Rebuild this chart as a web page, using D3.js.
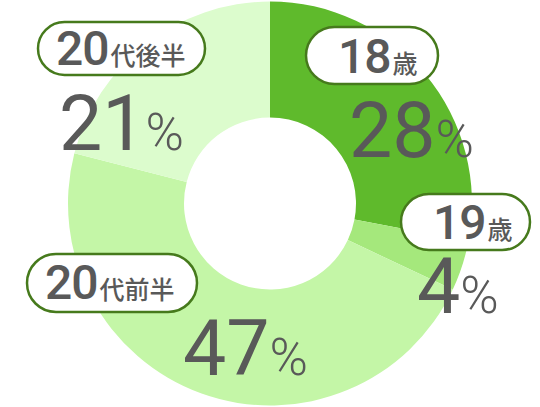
<!DOCTYPE html>
<html>
<head>
<meta charset="utf-8">
<script src="https://cdn.jsdelivr.net/npm/d3@7"></script>
<style>
  body { margin: 0; background: #fff; }
  svg { display: block; }
</style>
</head>
<body>
<div id="chart"></div>
<script>
// data
let nums = ['18', '19', '20', '20'];
let suffixes = ['歳', '歳', '代前半', '代後半'];
let values = [28, 4, 47, 21];
let colors = ['#5fba2c', '#a5e87c', '#c4f6a7', '#dcfccd'];

// label placement (box + percentage), one entry per slice
let layout = [
  {box: [306, 27, 132, 57], tx: 338, ty: 73, px: 349, py: 157},
  {box: [401, 194, 129, 56], tx: 433, ty: 239, px: 417, py: 313},
  {box: [27, 254, 170, 58], tx: 45, ty: 299, px: 183, py: 375},
  {box: [38, 22, 167, 53], tx: 56, ty: 65, px: 59, py: 150}
];

let width = 540, height = 407;
let cx = 270, cy = 203.5;
let outerR = 202, innerR = 86;

let svg = d3.select('#chart').append('svg')
  .attr('width', width)
  .attr('height', height);

let pie = d3.pie().sort(null).value(d => d);
let arc = d3.arc().innerRadius(innerR).outerRadius(outerR);

let g = svg.append('g')
  .attr('transform', 'translate(' + cx + ',' + cy + ')');

g.selectAll('path')
  .data(pie(values))
  .enter().append('path')
  .attr('d', arc)
  .attr('fill', (d, i) => colors[i]);

// labels
let textColor = '#595959';
let labels = svg.selectAll('.lbl')
  .data(values)
  .enter().append('g')
  .attr('class', 'lbl');

labels.append('rect')
  .attr('x', (d, i) => layout[i].box[0])
  .attr('y', (d, i) => layout[i].box[1])
  .attr('width', (d, i) => layout[i].box[2])
  .attr('height', (d, i) => layout[i].box[3])
  .attr('rx', (d, i) => layout[i].box[3] / 2)
  .attr('fill', '#fff')
  .attr('stroke', '#467a1c')
  .attr('stroke-width', 2.5);

let name = labels.append('text')
  .attr('x', (d, i) => layout[i].tx)
  .attr('y', (d, i) => layout[i].ty)
  .attr('fill', textColor);
name.append('tspan')
  .attr('font-family', 'Roboto, sans-serif')
  .attr('font-size', 48)
  .attr('font-weight', 500)
  .attr('letter-spacing', -1)
  .text((d, i) => nums[i]);
name.append('tspan')
  .attr('font-family', '"Noto Sans CJK JP", sans-serif')
  .attr('font-size', 25)
  .attr('font-weight', 500)
  .attr('dx', 2)
  .text((d, i) => suffixes[i]);

let pct = labels.append('text')
  .attr('x', (d, i) => layout[i].px)
  .attr('y', (d, i) => layout[i].py)
  .attr('fill', textColor)
  .attr('font-family', 'Roboto, sans-serif');
pct.append('tspan')
  .attr('font-size', 77)
  .text(d => d);
pct.append('tspan')
  .attr('font-size', 52)
  .attr('font-weight', 300)
  .text('%');
</script>
</body>
</html>
